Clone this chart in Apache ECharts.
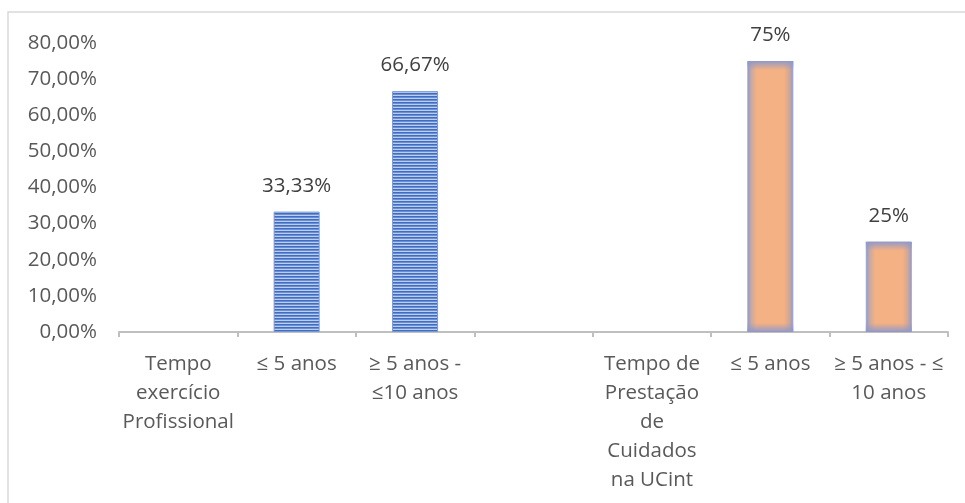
<!DOCTYPE html>
<html>
<head>
<meta charset="utf-8">
<script src="https://cdn.jsdelivr.net/npm/echarts@6/dist/echarts.min.js"></script>
<style>
html,body{margin:0;padding:0;background:#fff;}
#c{width:965px;height:503px;}
</style>
</head>
<body>
<div id="c"></div>
<script>
const categories = ['Tempo\nexercício\nProfissional', '≤ 5 anos', '≥ 5 anos -\n≤10 anos', '', 'Tempo de\nPrestação\nde\nCuidados\nna UCint', '≤ 5 anos', '≥ 5 anos - ≤\n10 anos'];
const tempoExercicio = ['-', 33.33, 66.67, '-', '-', '-', '-'];
const tempoUCint = ['-', '-', '-', '-', '-', 75, 25];
const yMin = 0, yMax = 80, yStep = 10;

// striped pattern for the blue bars
const pat = document.createElement('canvas');
pat.width = 4; pat.height = 3;
const pc = pat.getContext('2d');
const rows = ['#3f6dc2', '#6a8fd4', '#bccdee'];
rows.forEach((c, i) => { pc.fillStyle = c; pc.fillRect(0, i, 4, 1); });

const FONT = 'Open Sans';
const FS = 20.5;
const chart = echarts.init(document.getElementById('c'), null, {renderer: 'canvas'});
const base = {
  animation: false,
  textStyle: {fontFamily: FONT},
  graphic: [{
    type: 'rect', silent: true, z: -1,
    shape: {x: 8, y: 12, width: 1000, height: 600},
    style: {fill: 'none', stroke: '#d9d9d9', lineWidth: 1.5}
  }],
  grid: {left: 119, right: 17, top: 43, bottom: 171, containLabel: false},
  xAxis: {
    type: 'category',
    data: categories,
    boundaryGap: true,
    axisLine: {lineStyle: {color: '#bfbfbf', width: 2}},
    axisTick: {show: true, alignWithLabel: false, length: 5, lineStyle: {color: '#bfbfbf', width: 2}},
    axisLabel: {interval: 0, color: '#595959', fontSize: FS, lineHeight: 29, margin: 18, fontFamily: FONT}
  },
  yAxis: {
    type: 'value',
    min: yMin, max: yMax, interval: yStep,
    splitLine: {show: false},
    axisLine: {show: false},
    axisTick: {show: false},
    axisLabel: {
      color: '#595959', fontSize: FS, margin: 22, fontFamily: FONT,
      formatter: v => v.toFixed(2).replace('.', ',') + '%'
    }
  },
  series: [{
    name: 'Tempo exercício Profissional',
    type: 'bar', stack: 'g', barWidth: 46,
    data: tempoExercicio,
    itemStyle: {color: {image: pat, repeat: 'repeat'}, borderColor: '#7a98d6', borderWidth: 1},
    label: {
      show: true, position: 'top', distance: 15, color: '#404040', fontSize: FS, fontFamily: FONT,
      formatter: p => p.value.toFixed(2).replace('.', ',') + '%'
    }
  }, {
    name: 'Tempo de Prestação de Cuidados na UCint',
    type: 'bar', stack: 'g', barWidth: 46,
    data: tempoUCint,
    itemStyle: {
      color: {
        type: 'linear', x: 0, y: 0, x2: 1, y2: 0,
        colorStops: [
          {offset: 0, color: '#8f98c8'},
          {offset: 0.08, color: '#c9a79f'},
          {offset: 0.2, color: '#f4b183'},
          {offset: 0.8, color: '#f4b183'},
          {offset: 0.92, color: '#c9a79f'},
          {offset: 1, color: '#8f98c8'}
        ]
      },
      borderColor: '#97a3d3', borderWidth: 1
    },
    label: {
      show: true, position: 'top', distance: 15, color: '#404040', fontSize: FS, fontFamily: FONT,
      formatter: p => Math.round(p.value) + '%'
    }
  }]
};
chart.setOption(base);

// vertical edge glow overlay for the orange bars (same data, style only)
const zeroPx = chart.convertToPixel({yAxisIndex: 0}, 0);
const glowData = tempoUCint.map(v => {
  if (v === '-') return '-';
  const h = Math.abs(zeroPx - chart.convertToPixel({yAxisIndex: 0}, v));
  const e = Math.min(0.45, 9 / h);
  return {
    value: v,
    itemStyle: {
      color: {
        type: 'linear', x: 0, y: 0, x2: 0, y2: 1,
        colorStops: [
          {offset: 0, color: 'rgba(143,152,200,0.95)'},
          {offset: e, color: 'rgba(143,152,200,0)'},
          {offset: 1 - e, color: 'rgba(143,152,200,0)'},
          {offset: 1, color: 'rgba(143,152,200,0.95)'}
        ]
      }
    }
  };
});
chart.setOption({
  series: [{}, {}, {
    name: 'glow', type: 'bar', barWidth: 46, barGap: '-100%', silent: true,
    data: glowData, label: {show: false}, z: 3
  }]
});
</script>
</body>
</html>
